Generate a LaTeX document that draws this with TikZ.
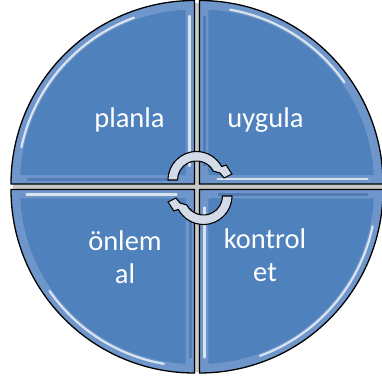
\documentclass[tikz,border=0pt]{standalone}
\usepackage{fontspec}
\setmainfont{Carlito}
\definecolor{mainblue}{HTML}{4F81BD}
\definecolor{bevelblue}{HTML}{6E96CB}
\definecolor{shadeblue}{HTML}{3F6DA6}
\definecolor{gapgray}{HTML}{C8C8C8}
\definecolor{arrowfill}{HTML}{D3DBE8}
\begin{document}
\begin{tikzpicture}[x=1pt,y=-1pt,
  quadrant/.style={draw=black, line width=1.3pt, fill=bevelblue},
  innerq/.style={fill=mainblue},
  hl/.style={draw=white, line width=2.2pt, opacity=0.75, line cap=round},
  shd/.style={draw=shadeblue, line width=3pt, opacity=0.6},
  qtext/.style={text=white, font=\fontsize{28.5}{33}\selectfont, align=center, inner sep=0pt},
  arrowshape/.style={draw=black, line width=1.1pt, fill=arrowfill, line join=round}]
\useasboundingbox (0,0) rectangle (382,385);
% gaps
\fill[gapgray] (194.5,3) rectangle (199.5,372);
\fill[gapgray] (13,184) rectangle (382,189.5);
% top-left
\begin{scope}[shift={(194.5,184)}]
  \path[quadrant] (0,0) -- (180:183.5) arc[start angle=180,end angle=270,radius=183.5] -- cycle;
  \fill[innerq] (-9,-9) -- (182.9:174.5) arc[start angle=182.9,end angle=267.1,radius=174.5] -- cycle;
  \draw[hl] (192:177) arc[start angle=192,end angle=250,radius=177];
  \draw[hl] (-5,-18) -- (-5,-168);
  \draw[shd] (-18,-4.5) -- (-168,-4.5);
\end{scope}
% top-right
\begin{scope}[shift={(199.5,184)}]
  \path[quadrant] (0,0) -- (270:183.5) arc[start angle=270,end angle=360,radius=183.5] -- cycle;
  \fill[innerq] (9,-9) -- (272.9:174.5) arc[start angle=272.9,end angle=357.1,radius=174.5] -- cycle;
  \draw[hl] (280:177) arc[start angle=280,end angle=325,radius=177];
  \draw[hl] (18,-5) -- (168,-5);
  \draw[shd] (4.5,-18) -- (4.5,-168);
\end{scope}
% bottom-right
\begin{scope}[shift={(199.5,189.5)}]
  \path[quadrant] (0,0) -- (0:183.5) arc[start angle=0,end angle=90,radius=183.5] -- cycle;
  \fill[innerq] (9,9) -- (2.9:174.5) arc[start angle=2.9,end angle=87.1,radius=174.5] -- cycle;
  \draw[hl] (12:177) arc[start angle=12,end angle=70,radius=177];
  \draw[hl] (5,18) -- (5,168);
  \draw[shd] (18,4.5) -- (168,4.5);
\end{scope}
% bottom-left
\begin{scope}[shift={(194.5,189.5)}]
  \path[quadrant] (0,0) -- (90:183.5) arc[start angle=90,end angle=180,radius=183.5] -- cycle;
  \fill[innerq] (-9,9) -- (92.9:174.5) arc[start angle=92.9,end angle=177.1,radius=174.5] -- cycle;
  \draw[hl] (100:177) arc[start angle=100,end angle=145,radius=177];
  \draw[hl] (-18,5) -- (-168,5);
  \draw[shd] (-4.5,18) -- (-4.5,168);
\end{scope}
% labels
\node[qtext, anchor=base] (planla) at (129.5,128) {planla};
\node[qtext, anchor=base] (uygula) at (265.5,128) {uygula};
\node[qtext] (onlem) at (125,257) {önlem\\al};
\node[qtext] (kontrol) at (265,255) {kontrol\\et};
% circular arrows
\begin{scope}[shift={(196.5,180)}]
  \path[arrowshape] (180:28.5) arc[start angle=180,end angle=332,radius=28.5]
    -- (29.5,-15) -- (35.5,-6) -- (27.5,-2) -- (23.5,-7)
    -- (332:19) arc[start angle=332,end angle=180,radius=19] -- cycle;
\end{scope}
\begin{scope}[shift={(203.5,196)},rotate=180]
  \path[arrowshape] (180:28.5) arc[start angle=180,end angle=332,radius=28.5]
    -- (29.5,-15) -- (35.5,-6) -- (27.5,-2) -- (23.5,-7)
    -- (332:19) arc[start angle=332,end angle=180,radius=19] -- cycle;
\end{scope}
\end{tikzpicture}
\end{document}
